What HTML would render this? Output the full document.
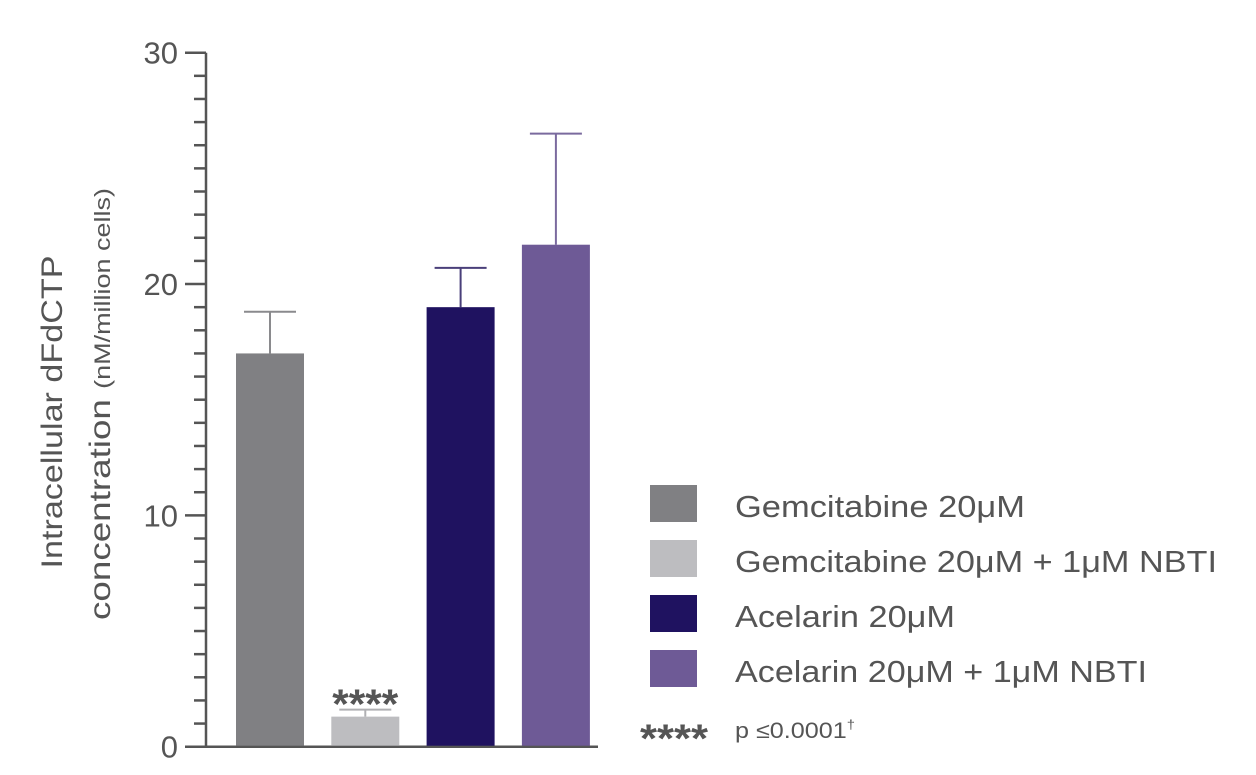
<!DOCTYPE html>
<html><head><meta charset="utf-8"><style>
html,body{margin:0;padding:0;background:#fff;}
svg{display:block;font-family:"Liberation Sans",sans-serif;}
</style></head><body>
<svg id="chart" width="1256" height="775" viewBox="0 0 1256 775">
<g id="axis"></g>
<g id="bars"></g>
<text transform="translate(62,412) rotate(-90)" text-anchor="middle" font-size="30" fill="#555" textLength="313" lengthAdjust="spacingAndGlyphs">Intracellular dFdCTP</text>
<text transform="translate(110,404) rotate(-90)" text-anchor="middle" font-size="30" fill="#555" textLength="432" lengthAdjust="spacingAndGlyphs">concentration <tspan font-size="22">(nM/million cells)</tspan></text>
<g id="legend"></g>
<text x="640" y="752" font-size="40" font-weight="bold" fill="#555" textLength="68" lengthAdjust="spacingAndGlyphs">****</text>
<text x="735" y="738" font-size="22" fill="#555" textLength="120" lengthAdjust="spacingAndGlyphs">p ≤0.0001<tspan font-size="13" dy="-9">†</tspan></text>
</svg>
<script>
const categories = ["Gemcitabine 20μM","Gemcitabine 20μM + 1μM NBTI","Acelarin 20μM","Acelarin 20μM + 1μM NBTI"];
const values = [17.0, 1.3, 19.0, 21.7];
const errors = [1.8, 0.3, 1.7, 4.8];
const yTicks = [0, 10, 20, 30];
const legendWidths = [290, 482, 220, 412];
const colors = ["#808083","#bdbdc0","#1f1260","#6e5a96"];
const errColors = ["#8a8a8d","#b0b0b3","#4a3f7a","#7a6a9e"];
const NS="http://www.w3.org/2000/svg";
const y0=746.7, yTop=52.7, vMax=30;
const y = v => y0 - (v/vMax)*(y0-yTop);
const axisX=206;
function mk(tag, attrs, parent){const e=document.createElementNS(NS,tag);for(const k in attrs)e.setAttribute(k,attrs[k]);parent.appendChild(e);return e;}
const ax=document.getElementById('axis');
let l=mk('line',{x1:axisX,y1:y(vMax),x2:axisX,y2:y0,stroke:'#555','stroke-width':2.5},ax);


l=mk('line',{x1:185,y1:y0,x2:598,y2:y0,stroke:'#555','stroke-width':2.5},ax);


for(let v=0;v<=vMax;v++){
  const major = v%10===0;
  const t=mk('line',{x1:major?185:194,y1:y(v),x2:axisX,y2:y(v),stroke:'#555','stroke-width':2.5},ax);
  
  
}
yTicks.forEach(v=>{
  const t=mk('text',{x:178,y:y(v)+11,'text-anchor':'end','font-size':31,fill:'#555'},ax);
  t.textContent=v;
  
  
});
const bg=document.getElementById('bars');
const x0=236, step=95.3, bw=68;
values.forEach((v,i)=>{
  const bx=x0+i*step, cx=bx+bw/2;
  const e=mk('line',{x1:cx,y1:y(v+errors[i]),x2:cx,y2:y(v),stroke:errColors[i],'stroke-width':2},bg);
  
  
  const c=mk('line',{x1:cx-26,y1:y(v+errors[i]),x2:cx+26,y2:y(v+errors[i]),stroke:errColors[i],'stroke-width':2},bg);
  
  
  const r=mk('rect',{x:bx,y:y(v),width:bw,height:y0-y(v)-1,fill:colors[i]},bg);
  
  
});
const st=mk('text',{x:x0+step+bw/2,y:y(values[1]+errors[1])+9,'text-anchor':'middle','font-size':42,'font-weight':'bold',fill:'#555',textLength:66,lengthAdjust:'spacingAndGlyphs'},bg);
st.textContent='****';


const lg=document.getElementById('legend');
categories.forEach((c,i)=>{
  const yy=485+i*55;
  const s=mk('rect',{x:650,y:yy,width:47,height:37,fill:colors[i]},lg);
  
  
  const t=mk('text',{x:735,y:yy+32,'font-size':31,fill:'#555',textLength:legendWidths[i],lengthAdjust:'spacingAndGlyphs'},lg);
  t.textContent=c;
  
  
});
</script>
</body></html>
